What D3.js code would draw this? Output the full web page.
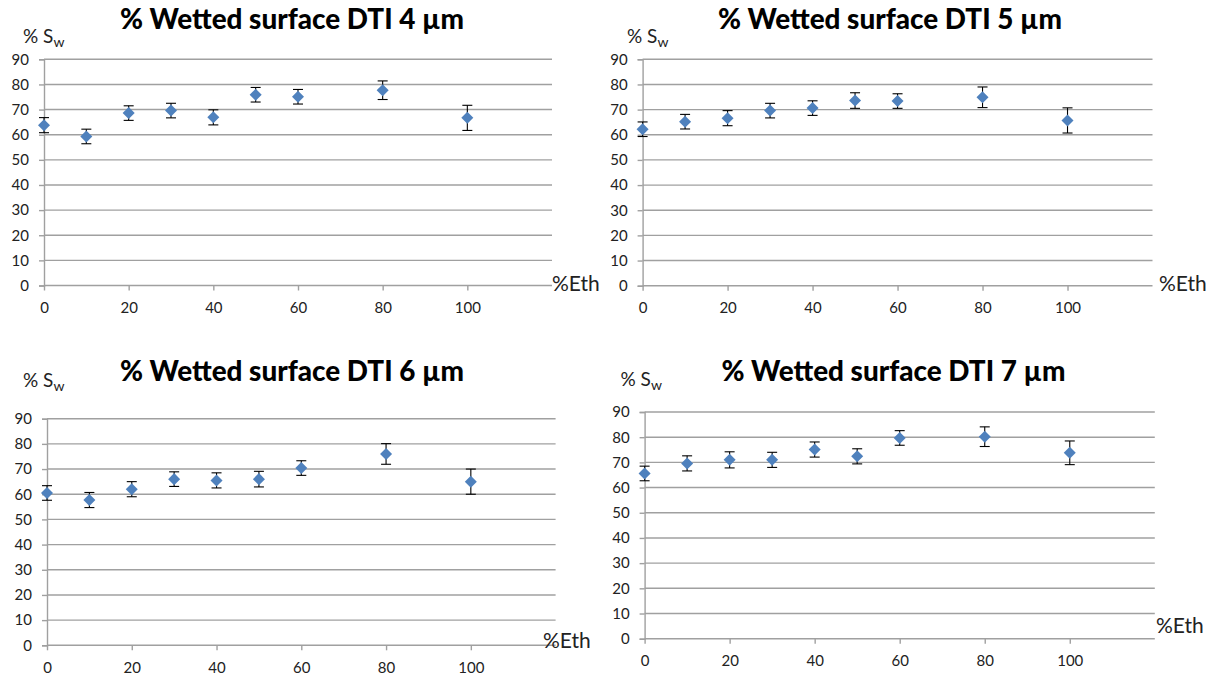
<!DOCTYPE html>
<html><head><meta charset="utf-8">
<script src="https://cdn.jsdelivr.net/npm/d3@7"></script>
<style>body{margin:0;background:#fff}svg{display:block}</style>
</head><body><svg id="c" width="1215" height="675"></svg>
<script>
const ethanol = [0, 10, 20, 30, 40, 50, 60, 80, 100];
const xTicks = [0, 20, 40, 60, 80, 100];
const yTicks = [0, 10, 20, 30, 40, 50, 60, 70, 80, 90];
const titles = ["% Wetted surface DTI 4 µm", "% Wetted surface DTI 5 µm", "% Wetted surface DTI 6 µm", "% Wetted surface DTI 7 µm"];
const sw4 = [63.8, 59.3, 68.6, 69.6, 66.9, 75.9, 75.1, 77.7, 66.7];
const err4 = [3.0, 2.9, 2.9, 2.9, 3.0, 2.9, 2.9, 3.7, 5.0];
const sw5 = [62.2, 65.2, 66.6, 69.6, 70.6, 73.6, 73.4, 74.9, 65.7];
const err5 = [2.9, 2.9, 3.0, 2.9, 2.9, 3.1, 2.9, 4.1, 5.0];
const sw6 = [60.5, 57.7, 62.0, 66.0, 65.5, 66.0, 70.4, 76.0, 65.0];
const err6 = [2.9, 3.0, 3.0, 2.9, 3.0, 3.1, 2.9, 4.1, 5.0];
const sw7 = [65.6, 69.6, 71.0, 71.0, 75.1, 72.4, 79.7, 80.2, 73.8];
const err7 = [2.9, 3.0, 3.2, 3.0, 3.0, 3.0, 2.9, 3.9, 4.7];

const series = [sw4, sw5, sw6, sw7];
const errors = [err4, err5, err6, err7];

const panels = [
  {x0: 44, x1: 552, yT: 59.3, yB: 285.5, tx: 292, ty: 29, swx: 23, swy: 43, ex: 552, ey: 290.5},
  {x0: 642.6, x1: 1152.5, yT: 59.3, yB: 285.7, tx: 890, ty: 29, swx: 627, swy: 43, ex: 1159, ey: 290.5},
  {x0: 47, x1: 555.6, yT: 418.7, yB: 645.3, tx: 292, ty: 381, swx: 23, swy: 387, ex: 543, ey: 648},
  {x0: 644.6, x1: 1154.8, yT: 412, yB: 638.7, tx: 893.5, ty: 381, swx: 620.5, swy: 386, ex: 1156, ey: 633}
];

const svg = d3.select("#c");
const font = "Lato, 'Open Sans', sans-serif";
const gridColor = "#a0a0a0";
const blue = "#4f81bd";

panels.forEach((p, i) => {
  const x = d3.scaleLinear().domain([0, 120]).range([p.x0, p.x1]);
  const y = d3.scaleLinear().domain([0, 90]).range([p.yB, p.yT]);
  const g = svg.append("g");

  g.selectAll("line.grid").data(yTicks.slice(1)).enter().append("line")
    .attr("x1", p.x0).attr("x2", p.x1)
    .attr("y1", d => y(d)).attr("y2", d => y(d))
    .attr("stroke", gridColor).attr("stroke-width", 1.4);

  const ya = g.append("g").attr("transform", `translate(${p.x0},0)`)
    .call(d3.axisLeft(y).tickValues(yTicks).tickSize(5).tickPadding(10).tickFormat(d3.format("d")));
  ya.select(".domain").attr("stroke", gridColor).attr("stroke-width", 1.4);
  ya.selectAll(".tick line").attr("stroke", gridColor).attr("stroke-width", 1.4);
  ya.selectAll("text").attr("font-family", font).attr("font-size", 15).attr("fill", "#222");

  const xa = g.append("g").attr("transform", `translate(0,${p.yB})`)
    .call(d3.axisBottom(x).tickValues(xTicks).tickSize(5).tickPadding(12).tickFormat(d3.format("d")));
  xa.select(".domain").attr("stroke", gridColor).attr("stroke-width", 1.4).attr("d", `M${p.x0},0H${p.x1}`);
  xa.selectAll(".tick line").attr("stroke", gridColor).attr("stroke-width", 1.4);
  xa.selectAll("text").attr("font-family", font).attr("font-size", 15).attr("fill", "#222");

  g.append("text").attr("x", p.tx).attr("y", p.ty).attr("text-anchor", "middle")
    .attr("font-family", font).attr("font-weight", 900).attr("font-size", 27.5).attr("fill", "#000")
    .attr("textLength", 344).attr("lengthAdjust", "spacingAndGlyphs")
    .text(titles[i]);

  const sw = g.append("text").attr("x", p.swx).attr("y", p.swy)
    .attr("font-family", font).attr("font-size", 19).attr("fill", "#222");
  sw.append("tspan").text("% S");
  sw.append("tspan").attr("font-size", 14).attr("dy", 4).text("w");

  g.append("text").attr("x", p.ex).attr("y", p.ey)
    .attr("font-family", font).attr("font-size", 21).attr("fill", "#222").text("%Eth");

  const data = ethanol.map((e, k) => ({e, v: series[i][k], err: errors[i][k]}));

  const eb = g.selectAll("g.eb").data(data).enter().append("g");
  eb.append("line").attr("x1", d => x(d.e)).attr("x2", d => x(d.e))
    .attr("y1", d => y(d.v + d.err)).attr("y2", d => y(d.v - d.err))
    .attr("stroke", "#000").attr("stroke-width", 1.1);
  [1, -1].forEach(s => {
    eb.append("line").attr("x1", d => x(d.e) - 5).attr("x2", d => x(d.e) + 5)
      .attr("y1", d => y(d.v + s * d.err)).attr("y2", d => y(d.v + s * d.err))
      .attr("stroke", "#000").attr("stroke-width", 1.1);
  });

  g.selectAll("path.pt").data(data).enter().append("path")
    .attr("d", d3.symbol().type(d3.symbolDiamond2).size(92))
    .attr("transform", d => `translate(${x(d.e)},${y(d.v)})`)
    .attr("fill", blue);
});
</script>
</body></html>
